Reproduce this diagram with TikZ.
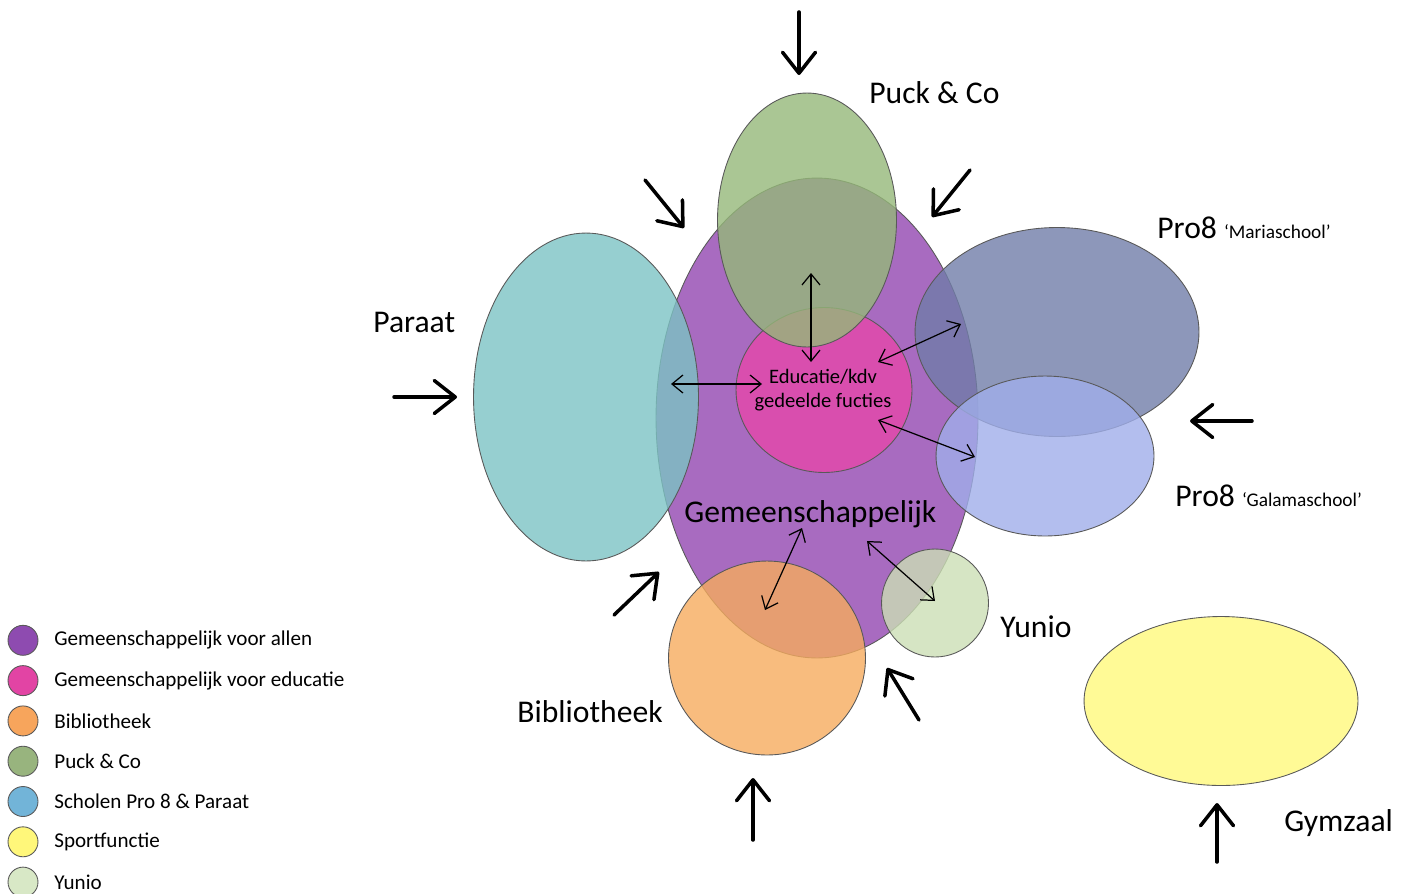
\documentclass[tikz,border=0pt]{standalone}
\usepackage{fontspec}
\setmainfont{Carlito}
\usetikzlibrary{shapes.geometric,arrows.meta}
\definecolor{cgem}{RGB}{146,70,176}
\definecolor{cparaat}{RGB}{124,195,196}
\definecolor{cpuck}{RGB}{149,184,121}
\definecolor{ceduc}{RGB}{229,72,170}
\definecolor{cmaria}{RGB}{113,125,169}
\definecolor{cgala}{RGB}{160,174,234}
\definecolor{cbib}{RGB}{246,171,94}
\definecolor{cyun}{RGB}{204,223,181}
\definecolor{cgym}{RGB}{255,249,124}
\definecolor{lgem}{RGB}{142,75,176}
\definecolor{leduc}{RGB}{226,68,164}
\definecolor{lbib}{RGB}{247,165,92}
\definecolor{lpuck}{RGB}{152,180,126}
\definecolor{lschool}{RGB}{114,180,216}
\definecolor{lsport}{RGB}{255,247,122}
\definecolor{lyun}{RGB}{216,232,198}
\begin{document}
\begin{tikzpicture}[x=0.02cm,y=-0.02cm,
    blob/.style={ellipse,draw=black!65,line width=0.5pt,fill opacity=0.8,inner sep=0pt},
    bigarrow/.style={line width=2pt,line cap=round,-{Straight Barb[length=0.42cm,width=0.66cm,round]}},
    link/.style={line width=0.7pt,{Straight Barb[length=0.22cm,width=0.36cm]}-{Straight Barb[length=0.22cm,width=0.36cm]}},
    lbl/.style={anchor=base west,inner sep=0pt,font=\fontsize{18}{21}\selectfont},
    legdot/.style={circle,draw=black!65,line width=0.5pt,minimum size=0.6cm,inner sep=0pt},
    legtxt/.style={anchor=west,inner sep=0pt,font=\fontsize{12}{14}\selectfont}]
    \useasboundingbox (0,0) rectangle (1408,893);
    % the areas
    \node[blob,fill=cgem,minimum width=6.44cm,minimum height=9.6cm] (gem) at (817,418) {};
    \node[blob,fill=cparaat,minimum width=4.5cm,minimum height=6.56cm] (paraat) at (586,397) {};
    \node[blob,fill=ceduc,minimum width=3.52cm,minimum height=3.3cm] (educ) at (824,390) {};
    \node[blob,fill=cpuck,minimum width=3.58cm,minimum height=5.08cm] (puck) at (807,220) {};
    \node[blob,fill=cmaria,minimum width=5.68cm,minimum height=4.18cm] (maria) at (1057,332) {};
    \node[blob,fill=cgala,minimum width=4.36cm,minimum height=3.2cm] (gala) at (1045,456) {};
    \node[blob,fill=cbib,minimum width=3.94cm,minimum height=3.88cm] (bib) at (767,658) {};
    \node[blob,fill=cyun,minimum width=2.14cm,minimum height=2.16cm] (yun) at (935,603) {};
    \node[blob,fill=cgym,minimum width=5.48cm,minimum height=3.38cm] (gym) at (1221,701) {};
    % labels
    \node[align=center,inner sep=0pt,font=\fontsize{11.7}{13.6}\selectfont] (educlbl) at (823,390) {Educatie/kdv\\gedeelde fucties};
    \node[lbl] (gemlbl) at (684,522) {Gemeenschappelijk};
    \node[lbl] (pucklbl) at (869,103) {Puck \& Co};
    \node[lbl] (paraatlbl) at (373,332) {Paraat};
    \node[lbl] (marialbl) at (1157,238) {Pro8 {\fontsize{11}{13}\selectfont ‘Mariaschool’}};
    \node[lbl] (galalbl) at (1175,506) {Pro8 {\fontsize{11}{13}\selectfont ‘Galamaschool’}};
    \node[lbl] (biblbl) at (517,722) {Bibliotheek};
    \node[lbl] (yunlbl) at (1000,637) {Yunio};
    \node[lbl] (gymlbl) at (1284,831) {Gymzaal};
    % links between the areas
    \coordinate (p1) at (811,273); \coordinate (p2) at (811,362);
    \coordinate (q1) at (671,384); \coordinate (q2) at (762,384);
    \coordinate (m1) at (878,362); \coordinate (m2) at (961,324);
    \coordinate (g1) at (878,420); \coordinate (g2) at (975,457);
    \coordinate (b1) at (802,528); \coordinate (b2) at (765,610);
    \coordinate (y1) at (867,541); \coordinate (y2) at (935,601);
    \draw[link] (p1) -- (p2);
    \draw[link] (q1) -- (q2);
    \draw[link] (m1) -- (m2);
    \draw[link] (g1) -- (g2);
    \draw[link] (b1) -- (b2);
    \draw[link] (y1) -- (y2);
    % entrances
    \foreach \n/\a/\b in {top/{799,12}/{799,75}, nw/{645,180}/{684,228}, ne/{970,170}/{932,217},
        west/{394,397}/{457,397}, east/{1252,421}/{1190,421}, sw/{614,615}/{659,572},
        se/{919,720}/{887,668}, south/{753,840}/{753,778}, gym/{1217,862}/{1217,803}}{
        \coordinate (in\n a) at (\a);
        \coordinate (in\n b) at (\b);
        \draw[bigarrow] (in\n a) -- (in\n b);
    }
    % legend
    \foreach \c/\t [count=\i] in {lgem/Gemeenschappelijk voor allen, leduc/Gemeenschappelijk voor educatie,
        lbib/Bibliotheek, lpuck/Puck \& Co, lschool/Scholen Pro 8 \& Paraat, lsport/Sportfunctie, lyun/Yunio}{
        \node[legdot,fill=\c] (dot\i) at (23,600+40.3*\i) {};
        \node[legtxt] (leg\i) at (54,600+40.3*\i) {\t};
    }
\end{tikzpicture}
\end{document}
